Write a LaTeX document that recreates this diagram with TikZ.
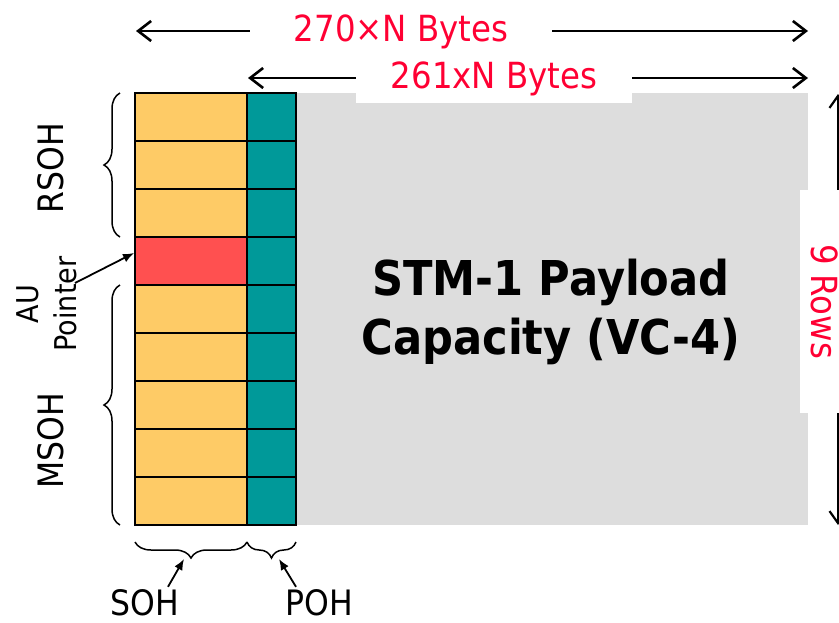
\documentclass[tikz,border=0pt]{standalone}
\usepackage{fontspec}
\setmainfont{DejaVu Sans Condensed}
\usetikzlibrary{arrows.meta,decorations.pathreplacing}
\definecolor{sohcol}{HTML}{FECB66}
\definecolor{pohcol}{HTML}{009999}
\definecolor{aucol}{HTML}{FF5050}
\definecolor{paycol}{HTML}{DDDDDD}
\definecolor{redtxt}{HTML}{FF0033}
\tikzset{
  cell/.style={draw=black, line width=2pt, minimum height=48pt, inner sep=0pt, outer sep=0pt},
  sohcell/.style={cell, fill=sohcol, minimum width=112pt},
  pohcell/.style={cell, fill=pohcol, minimum width=49pt},
  bigarrow/.style={draw=black, line width=2.6pt, -{Straight Barb[length=13pt,width=20pt,line width=2.6pt]}},
  vertarrow/.style={draw=black, line width=1.7pt, -{Straight Barb[length=12pt,width=17pt,line width=2.2pt]}},
  smallarrow/.style={draw=black, line width=1.8pt, -{Latex[length=11pt,width=9pt]}},
  bracestyle/.style={draw=black, line width=1.5pt, decorate, decoration={brace, amplitude=16pt}},
  redlabel/.style={text=redtxt, font=\fontsize{36}{40}\selectfont, inner sep=0pt, text height=26pt, text depth=6pt},
  sidelabel/.style={font=\fontsize{35}{40}\selectfont, inner sep=0pt, text height=25pt, text depth=0pt},
}
\begin{document}
\begin{tikzpicture}[x=1pt, y=-1pt]
\useasboundingbox (0,0) rectangle (839,622);
% payload area
\node[fill=paycol, minimum width=512pt, minimum height=432pt, inner sep=0pt] (pay) at (552,309) {};
\node[font=\fontsize{48}{59}\selectfont\bfseries, align=center, inner sep=0pt] (ptxt) at (551,312) {STM-1 Payload\\Capacity (VC-4)};
% overhead cells
\foreach \i in {1,...,9} {
  \node[pohcell] (p\i) at (271.5, 69+48*\i) {};
}
\foreach \i in {1,2,3,5,6,7,8,9} {
  \node[sohcell] (s\i) at (191, 69+48*\i) {};
}
\node[sohcell, fill=aucol] (s4) at (191, 261) {};
% top dimension arrows
\coordinate (aL) at (136,31);
\coordinate (aR) at (808,31);
\node[redlabel, minimum width=302pt] (t1) at (401,31) {270×N Bytes};
\draw[bigarrow] (t1.west) -- (aL);
\draw[bigarrow] (t1.east) -- (aR);
\coordinate (bL) at (248,78);
\coordinate (bR) at (808,78);
\node[redlabel, fill=white, minimum width=276pt, inner ysep=9pt] (t2) at (494,78) {261xN Bytes};
\draw[bigarrow] (t2.west) -- (bL);
\draw[bigarrow] (t2.east) -- (bR);
% right rows arrow
\coordinate (vT) at (838,94);
\coordinate (vB) at (838,525);
\node[redlabel, fill=white, rotate=-90, minimum width=223pt, inner ysep=5pt] (r9) at (821,301.5) {9 Rows};
\draw[vertarrow] (r9.west -| vT) -- (vT);
\draw[vertarrow] (r9.east -| vB) -- (vB);
% left braces
\draw[bracestyle] ([xshift=-15pt]s3.south west) -- ([xshift=-15pt]s1.north west);
\draw[bracestyle] ([xshift=-15pt]s9.south west) -- ([xshift=-15pt]s5.north west);
\node[sidelabel, rotate=90] (rsoh) at (51,168) {RSOH};
\node[sidelabel, rotate=90] (msoh) at (51,441) {MSOH};
\node[font=\fontsize{30}{38}\selectfont, align=center, inner sep=0pt, rotate=90] (au) at (47,304) {AU\\Pointer};
\coordinate (autip) at (134,253);
\draw[smallarrow] (75,283) -- (autip);
% bottom braces
\draw[bracestyle] ([yshift=-17pt]s9.south east) -- ([yshift=-17pt]s9.south west);
\draw[bracestyle] ([yshift=-17pt]p9.south east) -- ([yshift=-17pt]p9.south west);
\node[sidelabel] (soh) at (145,602.5) {SOH};
\node[sidelabel] (poh) at (319,602.5) {POH};
\coordinate (sohtip) at (184,559);
\coordinate (pohtip) at (279,559);
\draw[smallarrow] ([xshift=23pt,yshift=3pt]soh.north) -- (sohtip);
\draw[smallarrow] ([xshift=-23pt,yshift=3pt]poh.north) -- (pohtip);
\end{tikzpicture}
\end{document}
